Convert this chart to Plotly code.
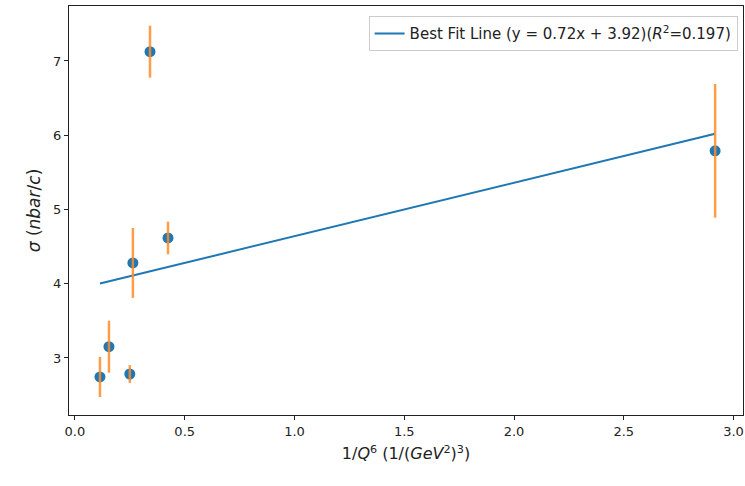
import numpy as np
import plotly.graph_objects as go

# data
x_vals = [0.114, 0.155, 0.25, 0.264, 0.342, 0.424, 2.916]
y_vals = [2.744, 3.152, 2.784, 4.28, 7.125, 4.616, 5.79]
y_err = [0.27, 0.35, 0.12, 0.47, 0.35, 0.22, 0.90]
slope = 0.72
intercept = 3.92
r2 = 0.197
x_ticks = [0.0, 0.5, 1.0, 1.5, 2.0, 2.5, 3.0]
y_ticks = [3, 4, 5, 6, 7]

xs = np.array(x_vals)
fit_y = slope * xs + intercept

fig = go.Figure()
fig.add_trace(go.Scatter(
    x=x_vals, y=list(fit_y), mode="lines",
    line=dict(color="#1f77b4", width=2),
    name=f"Best Fit Line (y = {slope:.2f}x + {intercept:.2f})(<i>R</i><sup>2</sup>={r2})",
    showlegend=True,
))
fig.add_trace(go.Scatter(
    x=x_vals, y=y_vals, mode="markers",
    marker=dict(color="#1f77b4", size=11),
    showlegend=False,
))
fig.add_trace(go.Scatter(
    x=x_vals, y=y_vals, mode="markers",
    marker=dict(color="rgba(0,0,0,0)", size=1),
    error_y=dict(type="data", array=y_err, visible=True,
                 color="rgba(255,140,40,0.85)", thickness=2.5, width=0),
    showlegend=False,
))

axis_common = dict(
    showgrid=False, zeroline=False, showline=True, linecolor="#222",
    linewidth=1, mirror=True, ticks="outside", ticklen=4, tickcolor="#222",
    tickfont=dict(family="DejaVu Sans", size=13, color="#222"),
)
fig.update_layout(
    width=745, height=486,
    margin=dict(l=69, r=2, t=6, b=71),
    paper_bgcolor="white", plot_bgcolor="white",
    font=dict(family="DejaVu Sans", size=13, color="#222"),
    xaxis=dict(range=[-0.027, 3.043], tickvals=x_ticks,
               ticktext=[f"{t:.1f}" for t in x_ticks],
               title=dict(text="1/<i>Q</i><sup>6</sup> (1/(<i>GeV</i><sup>2</sup>)<sup>3</sup>)",
                          font=dict(size=16), standoff=10),
               **axis_common),
    yaxis=dict(range=[2.232, 7.74], tickvals=y_ticks,
               title=dict(text="<i>σ</i> (<i>nbar</i>/<i>c</i>)",
                          font=dict(size=17), standoff=8),
               **axis_common),
    legend=dict(x=0.992, y=0.975, xanchor="right", yanchor="top",
                bgcolor="white", bordercolor="#ccc", borderwidth=1,
                font=dict(family="DejaVu Sans", size=15, color="#222")),
)
fig.write_html("out.html")
